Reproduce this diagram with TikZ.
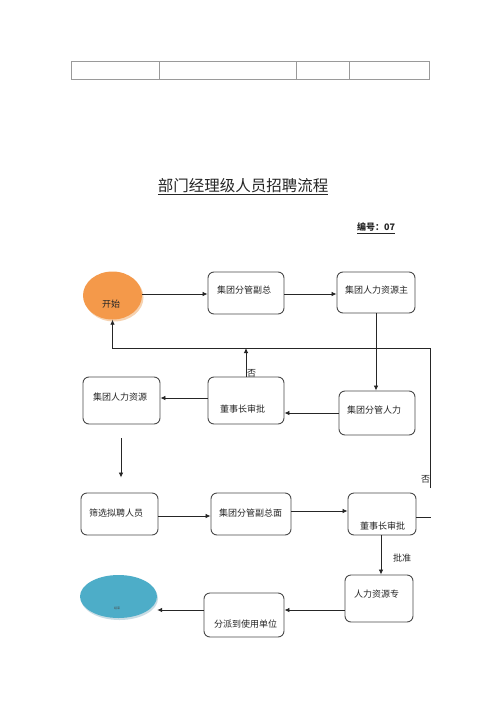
\documentclass[tikz,border=0pt]{standalone}
\usepackage{fontspec}
\newfontfamily\cjk{Noto Sans CJK SC}
\usetikzlibrary{arrows.meta,shapes.geometric,shadows}
\definecolor{boxgray}{HTML}{4A4A4A}
\definecolor{tblgray}{HTML}{9A9A9A}
\definecolor{startorange}{HTML}{F4994A}
\definecolor{startshadow}{HTML}{F6D2B0}
\definecolor{endblue}{HTML}{4DADC8}
\definecolor{endshadow}{HTML}{C9DCE4}
\begin{document}
\begin{tikzpicture}[x=1pt,y=-1pt,
  box/.style={draw=boxgray, line width=0.9pt, rounded corners=6pt, inner sep=0pt, fill=white},
  lbl/.style={font=\cjk\fontsize{9}{10}\selectfont, text=black!85, anchor=west, inner sep=0pt},
  arr/.style={draw=black!85, line width=0.8pt, -{Latex[length=5pt,width=4.5pt]}},
  ln/.style={draw=black!85, line width=0.8pt},
  tbl/.style={draw=tblgray, line width=0.9pt}]
\useasboundingbox[fill=white] (0,0) rectangle (500,707);
% header table
\draw[tbl] (71,61) rectangle (429,79);
\draw[tbl] (159,61) -- (159,79) (296,61) -- (296,79) (349,61) -- (349,79);
% title
\node[font=\cjk\fontsize{15.5}{18}\selectfont, text=black!85, inner sep=0pt] (title) at (243,187) {\underline{部门经理级人员招聘流程}};
\node[font=\cjk\bfseries\fontsize{9}{10}\selectfont, text=black!85, anchor=west, inner sep=0pt] (num) at (357,228) {\underline{编号：07}};
% start
\fill[startshadow] (114,297.5) ellipse [x radius=29.5, y radius=24];
\node[ellipse, fill=startorange, minimum width=59pt, minimum height=48pt, inner sep=0pt] (start) at (112.5,295.5) {};
\node[lbl] (tstart) at (102,304) {开始};
% end
\fill[endshadow] (119.5,598.5) ellipse [x radius=38.5, y radius=21.5];
\node[ellipse, fill=endblue, minimum width=77pt, minimum height=43pt, inner sep=0pt] (end) at (118.5,596.5) {};
\node[font=\cjk\fontsize{3}{3}\selectfont, text=black!70, inner sep=0pt] (tend) at (117,608) {结束};
% boxes
\node[box, minimum width=76pt, minimum height=42pt] (b1) at (246,293) {};
\node[box, minimum width=78pt, minimum height=41pt] (b2) at (376,292.5) {};
\node[box, minimum width=76pt, minimum height=44pt] (b3) at (377,413) {};
\node[box, minimum width=76pt, minimum height=47pt] (b4) at (246,400.5) {};
\node[box, minimum width=77pt, minimum height=47pt] (b5) at (121.5,400.5) {};
\node[box, minimum width=77pt, minimum height=42pt] (b6) at (119.5,514) {};
\node[box, minimum width=80pt, minimum height=42pt] (b7) at (251,514) {};
\node[box, minimum width=68pt, minimum height=42pt] (b8) at (382,514) {};
\node[box, minimum width=68pt, minimum height=47pt] (b9) at (379,598.5) {};
\node[box, minimum width=80pt, minimum height=44pt] (b10) at (244,615) {};
% labels
\node[lbl] (t1) at (217,290) {集团分管副总};
\node[lbl] (t2) at (345,290) {集团人力资源主};
\node[lbl] (t3) at (347,410) {集团分管人力};
\node[lbl] (t4) at (220,409) {董事长审批};
\node[lbl] (t5) at (93,397) {集团人力资源};
\node[lbl] (t6) at (89,513) {筛选拟聘人员};
\node[lbl] (t7) at (219,513) {集团分管副总面};
\node[lbl] (t8) at (360,526) {董事长审批};
\node[lbl] (t9) at (354,594) {人力资源专};
\node[lbl] (t10) at (214,624) {分派到使用单位};
\node[lbl] (no1) at (247,373) {否};
\node[lbl] (no2) at (421,479) {否};
\node[lbl] (ok) at (393,558) {批准};
% connectors
\coordinate (jn) at (246,348);
\coordinate (lpa) at (431,517);
\coordinate (lpb) at (430,488);
\coordinate (lpc) at (430,348);
\draw[arr] (start.east |- 0,294) -- (b1.west |- 0,294);
\draw[arr] (b1.east |- 0,294) -- (b2.west |- 0,294);
\draw[arr] (b2.south) -- (b2.south |- b3.north);
\draw[arr] (b3.west |- 0,413) -- (b4.east |- 0,413);
\draw[arr] (b4.west |- 0,398) -- (b5.east |- 0,398);
\draw[arr] (b4.north) -- (jn);
\draw[arr] ([yshift=-14pt]b5.south -| 121,0) -- ([yshift=15pt]b6.north -| 121,0);
\draw[arr] (b6.east |- 0,516) -- (b7.west |- 0,516);
\draw[arr] (b7.east |- 0,511) -- (b8.west |- 0,511);
\draw[arr] (b8.south -| 381,0) -- (b9.north -| 381,0);
\draw[arr] (b9.west |- 0,610) -- (b10.east |- 0,610);
\draw[arr] (b10.west |- 0,610) -- (end.east |- 0,610);
\draw[ln] (b8.east |- lpa) -- (lpa);
\draw[arr] (lpb) -- (lpc) -- (start.south |- lpc) -- (start.south);
\end{tikzpicture}
\end{document}
